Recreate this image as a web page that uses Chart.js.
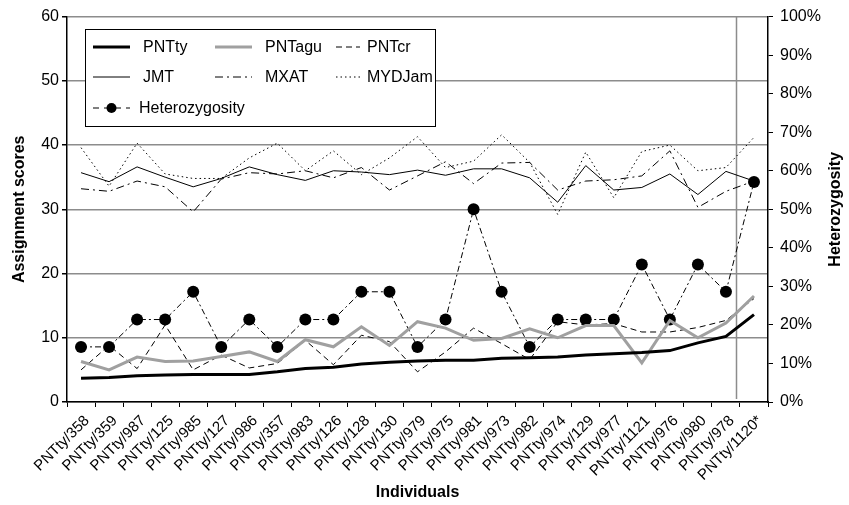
<!DOCTYPE html>
<html>
<head>
<meta charset="utf-8">
<script src="https://cdn.jsdelivr.net/npm/chart.js@4.4.1/dist/chart.umd.min.js"></script>
<style>
  html, body { margin: 0; padding: 0; background: #fff; }
  #wrap { width: 849px; height: 505px; }
</style>
</head>
<body>
<div id="wrap"><canvas id="scoreChart"></canvas></div>
<script>
// Individuals on the x axis
const individuals = ['PNTty/358', 'PNTty/359', 'PNTty/987', 'PNTty/125', 'PNTty/985', 'PNTty/127',
  'PNTty/986', 'PNTty/357', 'PNTty/983', 'PNTty/126', 'PNTty/128', 'PNTty/130', 'PNTty/979',
  'PNTty/975', 'PNTty/981', 'PNTty/973', 'PNTty/982', 'PNTty/974', 'PNTty/129', 'PNTty/977',
  'PNTty/1121', 'PNTty/976', 'PNTty/980', 'PNTty/978', 'PNTty/1120*'];

// Assignment scores (left axis)
const pntTy  = [3.7, 3.8, 4.1, 4.2, 4.3, 4.3, 4.3, 4.7, 5.2, 5.4, 5.9, 6.2, 6.4, 6.5, 6.5, 6.8, 6.9, 7.0, 7.3, 7.5, 7.7, 8.0, 9.2, 10.2, 13.6];
const pntAgu = [6.3, 5.0, 7.0, 6.3, 6.4, 7.1, 7.8, 6.3, 9.7, 8.6, 11.7, 8.8, 12.5, 11.5, 9.6, 9.9, 11.4, 10.0, 11.9, 11.9, 6.1, 12.7, 10.0, 12.3, 16.5];
const pntCr  = [5.0, 8.8, 5.2, 12.0, 5.0, 7.3, 5.3, 6.0, 9.6, 5.8, 10.4, 9.4, 4.7, 7.8, 11.5, 9.1, 6.6, 12.5, 12.0, 12.2, 10.9, 10.9, 11.6, 12.7, 16.1];
const jmt    = [35.7, 34.3, 36.6, 35.0, 33.5, 34.8, 36.6, 35.4, 34.5, 36.0, 35.8, 35.4, 36.1, 35.3, 36.3, 36.3, 34.9, 31.1, 36.8, 33.0, 33.4, 35.5, 32.3, 35.9, 34.4];
const mxat   = [33.2, 32.8, 34.4, 33.5, 29.6, 34.7, 35.7, 35.5, 36.0, 34.9, 36.5, 33.0, 35.2, 37.4, 34.0, 37.2, 37.3, 33.0, 34.4, 34.6, 35.2, 39.1, 30.3, 32.8, 34.4];
const mydJam = [39.6, 33.6, 40.3, 35.5, 34.8, 34.8, 38.0, 40.3, 36.0, 39.1, 35.4, 38.0, 41.3, 36.5, 37.5, 41.6, 37.3, 29.2, 38.9, 31.8, 39.0, 40.0, 36.0, 36.5, 41.2];

// Heterozygosity (right axis, %)
const heterozygosity = [14.3, 14.3, 21.4, 21.4, 28.6, 14.3, 21.4, 14.3, 21.4, 21.4, 28.6, 28.6, 14.3, 21.4, 50.0, 28.6, 14.3, 21.4, 21.4, 21.4, 35.7, 21.4, 35.7, 28.6, 57.1];

// tick labels
const scoreTicks = [0, 10, 20, 30, 40, 50, 60];
const hetTicks = [0, 10, 20, 30, 40, 50, 60, 70, 80, 90, 100];

// the reference individual is set apart after this index
const dividerAfter = 23;

const FONT = '"Liberation Sans", Arial, sans-serif';
Chart.defaults.font.family = FONT;
Chart.defaults.font.size = 15;
Chart.defaults.color = '#000';

// legend drawn as a framed box inside the plot
const boxLegend = {
  id: 'boxLegend',
  afterDraw(chart) {
    const ctx = chart.ctx;
    const cols = [{ line: 93, text: 143, len: 37 }, { line: 215, text: 265, len: 37 }, { line: 336, text: 367, len: 24 }];
    const rows = [47, 77, 108];
    ctx.save();
    ctx.fillStyle = '#fff';
    ctx.fillRect(85, 29, 350, 97);
    ctx.strokeStyle = '#000';
    ctx.lineWidth = 1;
    ctx.strokeRect(85.5, 29.5, 350, 97);
    ctx.font = '16px ' + FONT;
    ctx.textBaseline = 'middle';
    chart.data.datasets.forEach((ds, i) => {
      const c = cols[i % 3];
      const y = rows[Math.floor(i / 3)];
      ctx.strokeStyle = ds.borderColor;
      ctx.lineWidth = ds.borderWidth;
      ctx.setLineDash(ds.legendDash || ds.borderDash || []);
      ctx.beginPath();
      ctx.moveTo(c.line, y);
      ctx.lineTo(c.line + c.len, y);
      ctx.stroke();
      ctx.setLineDash([]);
      if (ds.pointRadius) {
        ctx.fillStyle = ds.pointBackgroundColor;
        ctx.beginPath();
        ctx.arc(c.line + c.len / 2, y, 5, 0, Math.PI * 2);
        ctx.fill();
      }
      ctx.fillStyle = '#000';
      ctx.fillText(ds.label, i === 6 ? c.text - 4 : c.text, y + 1);
    });
    ctx.restore();
  }
};

// vertical separator + right axis title (reads bottom to top)
const extras = {
  id: 'extras',
  beforeDatasetsDraw(chart) {
    const { ctx, chartArea, scales: { x } } = chart;
    const a = x.getPixelForValue(dividerAfter);
    const b = x.getPixelForValue(dividerAfter + 1);
    const px = Math.round(a + (b - a) * 0.35) + 0.5;
    ctx.save();
    ctx.strokeStyle = '#8c8c8c';
    ctx.lineWidth = 1.5;
    ctx.beginPath();
    ctx.moveTo(px, chartArea.top);
    ctx.lineTo(px, chartArea.bottom - 3);
    ctx.stroke();
    ctx.restore();
  },
  afterDraw(chart) {
    const { ctx, chartArea } = chart;
    ctx.save();
    ctx.font = 'bold 16px ' + FONT;
    ctx.fillStyle = '#000';
    ctx.textAlign = 'center';
    ctx.textBaseline = 'middle';
    ctx.translate(836, (chartArea.top + chartArea.bottom) / 2);
    ctx.rotate(-Math.PI / 2);
    ctx.fillText('Heterozygosity', 0, 0);
    ctx.restore();
  }
};

function thin(label, data, dash) {
  return { label, data, borderColor: '#000', borderWidth: 1, borderDash: dash, pointRadius: 0, tension: 0, yAxisID: 'y' };
}

new Chart(document.getElementById('scoreChart'), {
  type: 'line',
  data: {
    labels: individuals,
    datasets: [
      { label: 'PNTty', data: pntTy, borderColor: '#000', borderWidth: 3, pointRadius: 0, tension: 0, yAxisID: 'y' },
      { label: 'PNTagu', data: pntAgu, borderColor: '#a0a0a0', borderWidth: 3, pointRadius: 0, tension: 0, yAxisID: 'y' },
      thin('PNTcr', pntCr, [6, 4]),
      thin('JMT', jmt, []),
      thin('MXAT', mxat, [8, 4, 2, 4]),
      thin('MYDJam', mydJam, [1.5, 3]),
      {
        label: 'Heterozygosity', data: heterozygosity, yAxisID: 'y2',
        borderColor: '#000', borderWidth: 1, borderDash: [6, 3, 2, 3], legendDash: [6, 5], tension: 0,
        pointRadius: 6, pointBackgroundColor: '#000', pointBorderColor: '#000', pointBorderWidth: 0
      }
    ]
  },
  options: {
    responsive: true,
    maintainAspectRatio: false,
    animation: false,
    layout: { padding: { top: 16, left: 0, right: 0, bottom: 0 } },
    plugins: { legend: { display: false }, tooltip: { enabled: false } },
    scales: {
      x: {
        offset: true,
        afterFit(s) { s.height = 103; },
        grid: { offset: true, drawOnChartArea: false, drawTicks: true, tickLength: 5, tickColor: '#000' },
        border: { color: '#000', width: 1.5 },
        ticks: { autoSkip: false, minRotation: 45, maxRotation: 45, font: { size: 15 }, padding: 5, labelOffset: 6 },
        title: { display: true, text: 'Individuals', font: { size: 16, weight: 'bold' }, padding: { top: 0, bottom: 3 } }
      },
      y: {
        position: 'left',
        min: scoreTicks[0],
        max: scoreTicks[scoreTicks.length - 1],
        afterBuildTicks(s) { s.ticks = scoreTicks.map(v => ({ value: v })); },
        afterFit(s) { s.width = 67; },
        grid: { color: '#8c8c8c', lineWidth: 1.5, tickColor: '#000', tickLength: 5 },
        border: { color: '#000', width: 1.5 },
        ticks: { font: { size: 16 }, padding: 3 },
        title: { display: true, text: 'Assignment scores', font: { size: 16, weight: 'bold' }, padding: { top: 10 } }
      },
      y2: {
        position: 'right',
        min: hetTicks[0],
        max: hetTicks[hetTicks.length - 1],
        afterBuildTicks(s) { s.ticks = hetTicks.map(v => ({ value: v })); },
        afterFit(s) { s.width = 81; },
        grid: { drawOnChartArea: false, tickColor: '#000', tickLength: 5 },
        border: { color: '#000', width: 1.5 },
        ticks: { font: { size: 16 }, padding: 7, callback: v => v + '%' }
      }
    }
  },
  plugins: [boxLegend, extras]
});
</script>
</body>
</html>
